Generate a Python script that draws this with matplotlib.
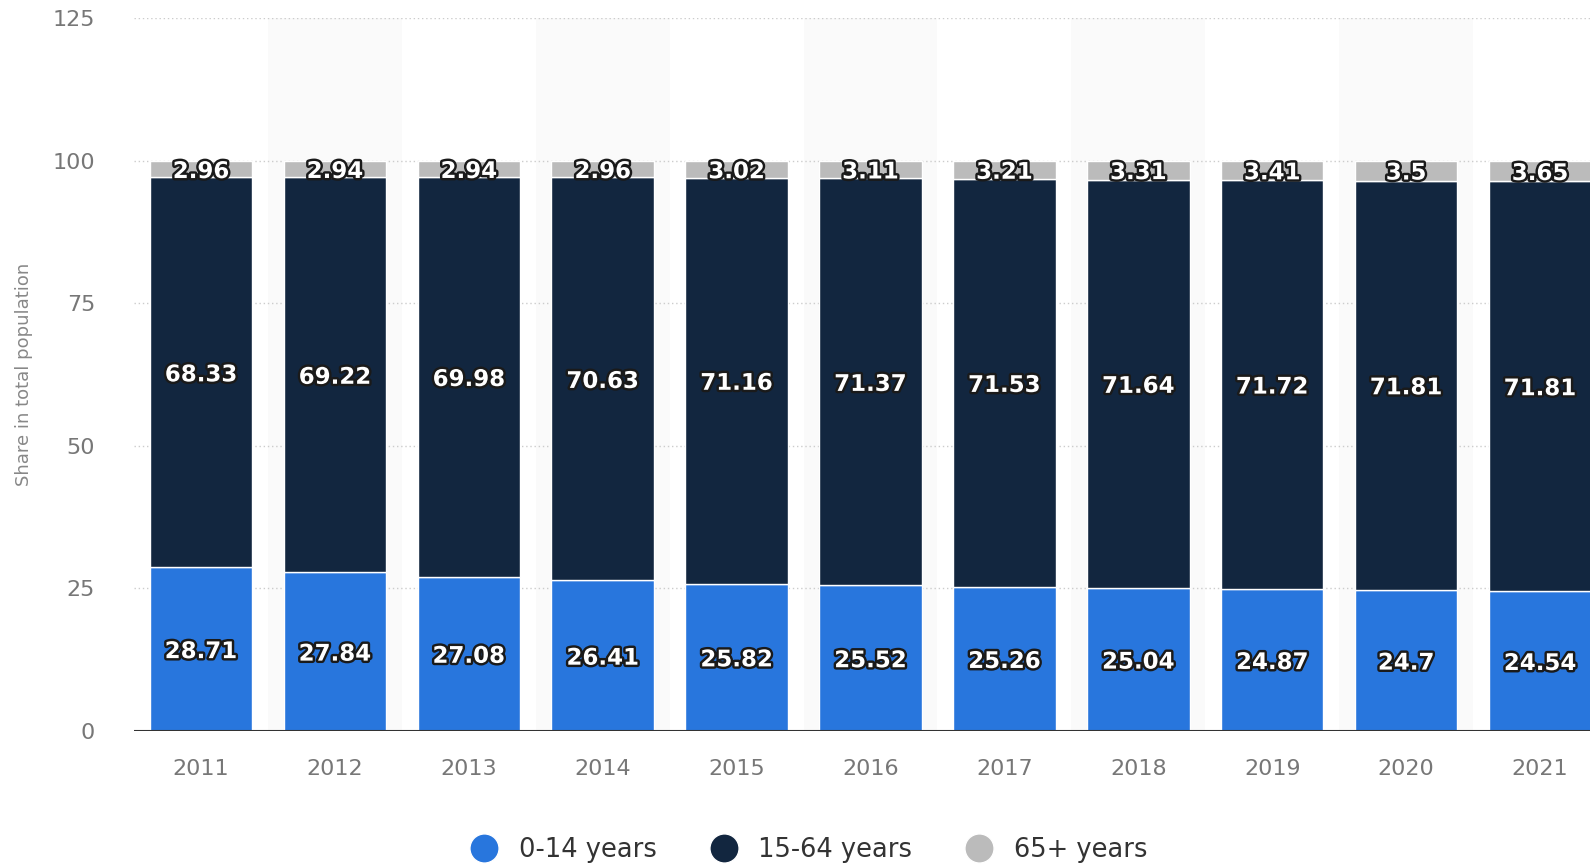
import numpy as np
import matplotlib
matplotlib.use('Agg')
import matplotlib.pyplot as plt
import matplotlib.patheffects as pe
from matplotlib.lines import Line2D

years = ['2011', '2012', '2013', '2014', '2015', '2016', '2017', '2018', '2019', '2020', '2021']
age_0_14 = [28.71, 27.84, 27.08, 26.41, 25.82, 25.52, 25.26, 25.04, 24.87, 24.7, 24.54]
age_15_64 = [68.33, 69.22, 69.98, 70.63, 71.16, 71.37, 71.53, 71.64, 71.72, 71.81, 71.81]
age_65 = [2.96, 2.94, 2.94, 2.96, 3.02, 3.11, 3.21, 3.31, 3.41, 3.5, 3.65]
series_names = ['0-14 years', '15-64 years', '65+ years']
colors = ['#2876dd', '#12263f', '#bbbbbb']

fig = plt.figure(figsize=(15.9, 8.65), dpi=100)
# axes run past the right edge, as in the original screenshot
ax = fig.add_axes([134/1590, 134/865, (1607-134)/1590, (847-134)/865])

x = np.arange(len(years))
w = 0.765

# alternating background bands
for i in x:
    if i % 2 == 1:
        ax.axvspan(i - 0.5, i + 0.5, color='#fafafa', zorder=0, lw=0)

for yv in [25, 50, 75, 100, 125]:
    ax.axhline(yv, color='#cccccc', lw=1, ls=(0, (1, 2)), zorder=1)

bottom = np.zeros(len(years))
outline = [pe.withStroke(linewidth=3.5, foreground='#1a1a1a')]
for vals, col in zip([age_0_14, age_15_64, age_65], colors):
    vals = np.array(vals)
    ax.bar(x, vals, w, bottom=bottom, color=col, edgecolor='white', linewidth=1, zorder=2)
    for xi, b, v in zip(x, bottom, vals):
        ax.text(xi, b + v / 2, f'{v:g}', ha='center', va='center_baseline', color='white',
                fontsize=16.5, fontweight='bold', path_effects=outline, zorder=4)
    bottom += vals

ax.axhline(0, color='#333333', lw=1.5, zorder=3)

ax.set_xlim(-0.5, 10.5)
ax.set_ylim(0, 125)
ax.set_yticks([0, 25, 50, 75, 100, 125])
ax.set_xticks(x)
ax.set_xticklabels(years)
ax.tick_params(axis='both', length=0, colors='#777777', labelsize=16)
ax.tick_params(axis='x', pad=20)
ax.tick_params(axis='y', pad=28)
for s in ax.spines.values():
    s.set_visible(False)
ax.set_ylabel('Share in total population', color='#888888', fontsize=13, labelpad=14)

handles = [Line2D([0], [0], marker='o', color='w', markerfacecolor=c, markersize=21, lw=0)
           for c in colors]
fig.legend(handles, series_names, loc='lower center', bbox_to_anchor=(0.505, -0.024),
           ncol=3, frameon=False, fontsize=18.5, handletextpad=0.35, columnspacing=1.6,
           labelcolor='#333333')

fig.savefig('out.png', dpi=100)
